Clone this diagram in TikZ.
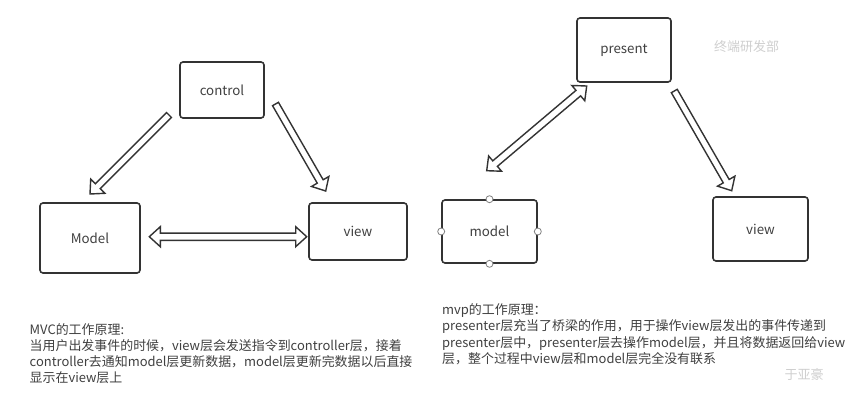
\documentclass[tikz,border=0pt]{standalone}
\usepackage{fontspec}
\setmainfont{Noto Sans CJK SC}
\usetikzlibrary{calc}
\definecolor{ink}{HTML}{333333}
\definecolor{txt}{HTML}{404040}
\definecolor{mark}{HTML}{CFCFCF}
\tikzset{
  boxnode/.style={draw=ink,line width=1.6pt,rounded corners=3pt,fill=white,inner sep=0pt,text=txt,font=\fontsize{13.3}{16}\selectfont},
  blockarrow/.style={draw=ink,line width=1.4pt,fill=white,line join=miter,miter limit=4},
  handle/.style={circle,draw=gray,line width=0.8pt,fill=white,minimum size=7pt,inner sep=0pt},
  bodytext/.style={text=txt,align=left,anchor=north west,inner sep=0pt,font=\fontsize{12.95}{16.2}\selectfont},
  watermark/.style={text=mark,inner sep=0pt,font=\fontsize{13}{15}\selectfont}
}
\newcommand\lbl[1]{\raisebox{-1pt}{#1}}
\newcommand\onearrow[2]{%
  \coordinate (bb) at ($(#2)!11pt!(#1)$);
  \draw[blockarrow] ($(#1)!3.4pt!90:(#2)$) -- ($(bb)!3.4pt!90:(#2)$) -- ($(bb)!10pt!90:(#2)$) -- (#2)
    -- ($(bb)!10pt!-90:(#2)$) -- ($(bb)!3.4pt!-90:(#2)$) -- ($(#1)!3.4pt!-90:(#2)$) -- cycle;
}
\newcommand\twoarrow[2]{%
  \coordinate (ba) at ($(#1)!11pt!(#2)$);
  \coordinate (bb) at ($(#2)!11pt!(#1)$);
  \draw[blockarrow] (#1) -- ($(ba)!10pt!90:(#2)$) -- ($(ba)!3.6pt!90:(#2)$) -- ($(bb)!3.6pt!-90:(#1)$) -- ($(bb)!10pt!-90:(#1)$) -- (#2)
    -- ($(bb)!10pt!90:(#1)$) -- ($(bb)!3.6pt!90:(#1)$) -- ($(ba)!3.6pt!-90:(#2)$) -- ($(ba)!10pt!-90:(#2)$) -- cycle;
}
\begin{document}
\begin{tikzpicture}[x=1pt,y=-1pt]
\useasboundingbox[fill=white] (0,0) rectangle (857,407);
% left diagram
\node[boxnode,minimum width=84pt,minimum height=56pt] (control) at (222,90) {\lbl{control}};
\node[boxnode,minimum width=100pt,minimum height=70pt] (modelL) at (90,238) {\lbl{Model}};
\node[boxnode,minimum width=98pt,minimum height=57pt] (viewL) at (358,231.5) {\lbl{view}};
\coordinate (c1a) at (169,115);
\coordinate (c1b) at (90,194);
\coordinate (c2a) at (275.5,104);
\coordinate (c2b) at (325.7,191);
\coordinate (c3a) at (149.3,236.7);
\coordinate (c3b) at (306.7,236.7);
\onearrow{c1a}{c1b}
\onearrow{c2a}{c2b}
\twoarrow{c3a}{c3b}
% right diagram
\node[boxnode,minimum width=94pt,minimum height=64pt] (present) at (624,50) {\lbl{present}};
\node[boxnode,minimum width=95pt,minimum height=63pt] (modelR) at (489.5,231.5) {model};
\node[boxnode,minimum width=95pt,minimum height=64pt] (viewR) at (760.5,229) {view};
\node[handle] (h1) at (modelR.north) {};
\node[handle] (h2) at (modelR.west) {};
\node[handle] (h3) at (modelR.east) {};
\node[handle] (h4) at (modelR.south) {};
\coordinate (c4a) at (586.7,86);
\coordinate (c4b) at (486.7,170.7);
\coordinate (c5a) at (674.3,91);
\coordinate (c5b) at (731.7,190.7);
\twoarrow{c4a}{c4b}
\onearrow{c5a}{c5b}
% captions
\node[bodytext] (capL) at (29.5,323) {MVC的工作原理:\\当用户出发事件的时候，view层会发送指令到controller层，接着\\controller去通知model层更新数据，model层更新完数据以后直接\\显示在view层上};
\node[bodytext] (capR) at (442,303.5) {mvp的工作原理：\\presenter层充当了桥梁的作用，用于操作view层发出的事件传递到\\presenter层中，presenter层去操作model层，并且将数据返回给view\\层，整个过程中view层和model层完全没有联系};
\node[watermark] (wm1) at (746.5,47) {终端研发部};
\node[watermark] (wm2) at (804,374) {于亚豪};
\end{tikzpicture}
\end{document}
